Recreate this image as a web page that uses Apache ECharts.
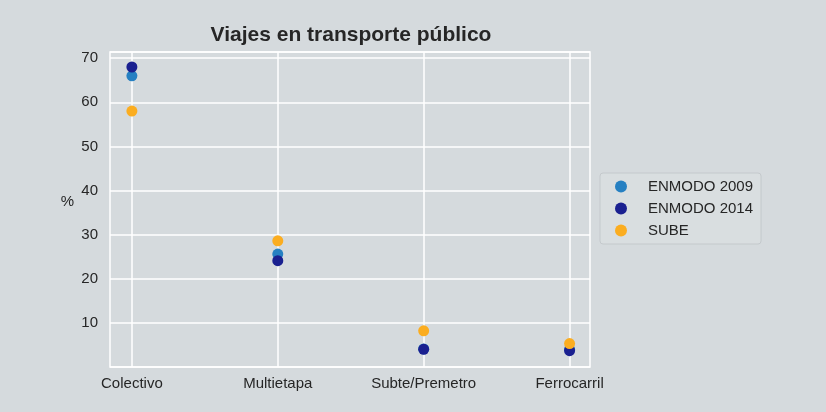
<!DOCTYPE html>
<html>
<head>
<meta charset="utf-8">
<script src="https://cdn.jsdelivr.net/npm/echarts@6/dist/echarts.min.js"></script>
<style>
  html, body { margin: 0; padding: 0; background: #d5dadd; }
  #chart { width: 826px; height: 412px; }
</style>
</head>
<body>
<div id="chart"></div>
<script>
var categories = ['Colectivo', 'Multietapa', 'Subte/Premetro', 'Ferrocarril'];
var enmodo2009 = [66.0, 25.6, 4.1, 4.0];
var enmodo2014 = [68.0, 24.1, 4.0, 3.7];
var sube = [58.0, 28.6, 8.2, 5.3];
var yTicks = [10, 20, 30, 40, 50, 60, 70];

function toPoints(arr) {
    return arr.map(function (v, i) { return [i, v]; });
}

var chartDom = document.getElementById('chart');
var myChart = echarts.init(chartDom);
var font = 'Liberation Sans, Arial, sans-serif';
var catIdx = categories.map(function (c, i) { return i; });

var option = {
    backgroundColor: '#d5dadd',
    animation: false,
    textStyle: { fontFamily: font },
    title: {
        text: 'Viajes en transporte público',
        left: 346,
        textAlign: 'center',
        top: 20,
        textStyle: { fontSize: 21, fontWeight: 'bold', color: '#262626', fontFamily: font }
    },
    grid: {
        left: 110, right: 236, top: 52, bottom: 45,
        show: true, borderColor: '#ffffff', borderWidth: 1.5, backgroundColor: 'transparent'
    },
    legend: {
        orient: 'vertical',
        left: 600, top: 173,
        padding: [6, 8, 6, 15],
        itemGap: 7,
        itemWidth: 12, itemHeight: 12,
        icon: 'circle',
        backgroundColor: '#d9dee0',
        borderColor: '#c4c9cc', borderWidth: 1, borderRadius: 3,
        textStyle: { fontSize: 15, color: '#262626', padding: [0, 0, 0, 16] },
        data: ['ENMODO 2009', 'ENMODO 2014', 'SUBE']
    },
    xAxis: {
        type: 'value',
        min: -0.15, max: 3.14,
        axisLine: { show: false },
        axisTick: { show: false, customValues: catIdx },
        splitLine: { show: true, lineStyle: { color: '#ffffff', width: 1.5 } },
        axisLabel: {
            customValues: catIdx,
            color: '#262626', fontSize: 15, margin: 9,
            formatter: function (v) {
                var i = Math.round(v);
                return categories[i] || '';
            }
        }
    },
    yAxis: {
        type: 'value',
        min: 0, max: 71.4, interval: 10,
        name: '%',
        nameLocation: 'middle',
        nameRotate: 0,
        nameGap: 36,
        nameTextStyle: { fontSize: 15, color: '#262626', verticalAlign: 'bottom' },
        axisLine: { show: false },
        axisTick: { show: false },
        splitLine: { show: true, lineStyle: { color: '#ffffff', width: 1.5 } },
        axisLabel: {
            showMinLabel: false, showMaxLabel: false,
            color: '#262626', fontSize: 15, margin: 12,
            formatter: function (v) { return yTicks.indexOf(v) >= 0 ? String(v) : ''; }
        }
    },
    series: [
        { name: 'ENMODO 2009', type: 'scatter', symbolSize: 11, itemStyle: { color: '#2680c2', opacity: 1 }, data: toPoints(enmodo2009) },
        { name: 'ENMODO 2014', type: 'scatter', symbolSize: 11, itemStyle: { color: '#1a2090', opacity: 1 }, data: toPoints(enmodo2014) },
        { name: 'SUBE', type: 'scatter', symbolSize: 11, itemStyle: { color: '#fbad20', opacity: 1 }, data: toPoints(sube) }
    ]
};

myChart.setOption(option);
window.onresize = myChart.resize;
</script>
</body>
</html>
